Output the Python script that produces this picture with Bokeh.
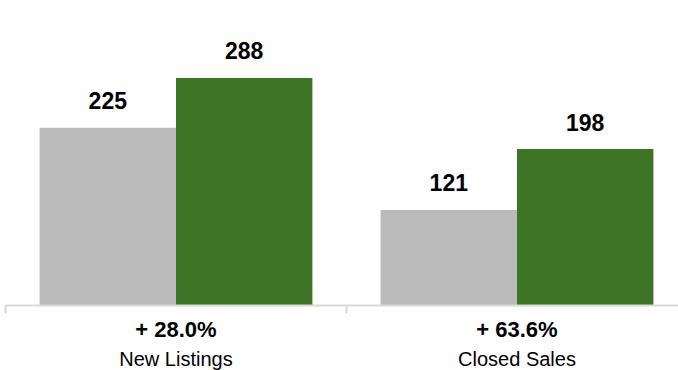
from bokeh.plotting import figure
from bokeh.models import Range1d, ColumnDataSource, FixedTicker, LinearAxis
from bokeh.core.properties import value
from bokeh.embed import file_html
from bokeh.resources import INLINE

categories = ["New Listings", "Closed Sales"]
prior_values = [225, 121]
current_values = [288, 198]
change_labels = ["+ 28.0%", "+ 63.6%"]

GRAY = "#bababa"
GREEN = "#3d7426"
FONT = "Liberation Sans"

centers = [i + 0.5 for i in range(len(categories))]
offset = 0.2
bar_w = 0.4

p = figure(frame_width=673, frame_height=305,
           x_range=Range1d(0, 673 / 341), y_range=Range1d(0, 386),
           output_backend="svg", toolbar_location=None,
           min_border_left=5, min_border_right=0, min_border_top=0, min_border_bottom=0,
           x_axis_location=None, y_axis_location=None)
p.outline_line_color = None
p.xgrid.visible = False
p.ygrid.visible = False
p.background_fill_color = "white"
p.border_fill_color = "white"

src = ColumnDataSource(dict(
    xp=[c - offset for c in centers], xc=[c + offset for c in centers],
    prior=prior_values, current=current_values,
    prior_txt=[str(v) for v in prior_values], current_txt=[str(v) for v in current_values],
))

p.vbar(x="xp", top="prior", width=bar_w, bottom=0, source=src, fill_color=GRAY, line_color=None)
p.vbar(x="xc", top="current", width=bar_w, bottom=0, source=src, fill_color=GREEN, line_color=None)

for xcol, ycol, tcol in [("xp", "prior", "prior_txt"), ("xc", "current", "current_txt")]:
    p.text(x=xcol, y=ycol, text=tcol, source=src, text_align="center", text_baseline="alphabetic",
           y_offset=-27, text_font=value(FONT), text_font_style="bold", text_font_size="23px",
           text_color="black")

ax1 = LinearAxis(ticker=FixedTicker(ticks=centers, minor_ticks=[0, 1, 2]))
ax1.major_label_overrides = {c: t for c, t in zip(centers, change_labels)}
ax1.axis_line_color = "#dadada"
ax1.axis_line_width = 2
ax1.major_tick_line_color = None
ax1.major_tick_out = 0
ax1.major_tick_in = 0
ax1.minor_tick_line_color = "#dadada"
ax1.minor_tick_line_width = 2
ax1.minor_tick_out = 8
ax1.minor_tick_in = 0
ax1.major_label_standoff = 3
ax1.major_label_text_font = FONT
ax1.major_label_text_font_style = "bold"
ax1.major_label_text_font_size = "22px"
ax1.major_label_text_color = "black"
p.add_layout(ax1, "below")

ax2 = LinearAxis(ticker=FixedTicker(ticks=centers, minor_ticks=[]))
ax2.major_label_overrides = {c: t for c, t in zip(centers, categories)}
ax2.axis_line_color = None
ax2.major_tick_line_color = None
ax2.minor_tick_line_color = None
ax2.major_tick_out = 0
ax2.major_tick_in = 0
ax2.major_label_standoff = 3
ax2.major_label_text_font = FONT
ax2.major_label_text_font_style = "normal"
ax2.major_label_text_font_size = "20px"
ax2.major_label_text_color = "black"
p.add_layout(ax2, "below")

open("out.html", "w").write(file_html(p, INLINE))
